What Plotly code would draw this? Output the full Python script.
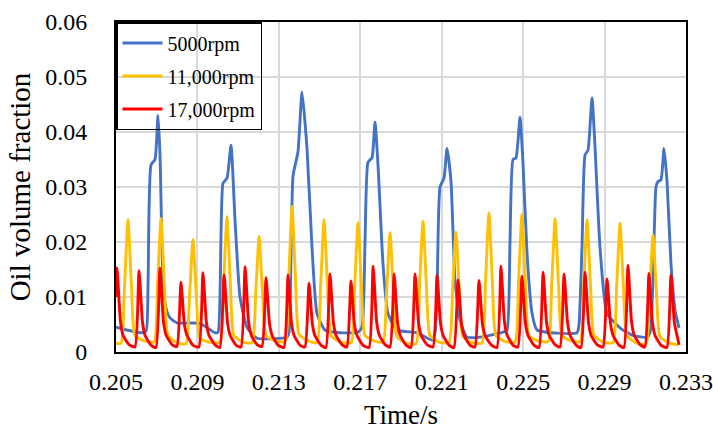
import plotly.graph_objects as go

# ---------------- data (time in ms, value = oil volume fraction) ----------------
blue_t_ms = [205.000, 206.179, 206.474, 206.572, 206.719, 206.916, 207.063, 207.161, 207.309, 207.456,
             207.653, 207.996, 209.126, 209.863, 210.011, 210.256, 210.453, 210.649, 210.846, 211.091,
             211.435, 211.926, 212.565, 213.400, 213.498, 213.695, 213.940, 214.137, 214.383, 214.628,
             214.874, 215.267, 216.004, 216.888, 217.084, 217.232, 217.379, 217.575, 217.723, 217.870,
             218.116, 218.361, 218.804, 219.786, 220.523, 220.670, 220.768, 220.916, 221.112, 221.260,
             221.456, 221.653, 221.898, 222.242, 222.881, 224.011, 224.207, 224.354, 224.502, 224.649,
             224.846, 224.993, 225.190, 225.435, 225.681, 227.646, 227.744, 227.891, 228.039, 228.186,
             228.383, 228.530, 228.776, 229.119, 229.758, 230.397, 231.084, 231.232, 231.379, 231.526,
             231.625, 231.772, 231.919, 232.067, 232.263, 232.460, 232.656]
blue_v = [0.0045, 0.0035, 0.0038, 0.0120, 0.0340, 0.0350, 0.0430, 0.0360, 0.0130, 0.0080,
          0.0062, 0.0053, 0.0052, 0.0035, 0.0036, 0.0307, 0.0316, 0.0376, 0.0240, 0.0100,
          0.0045, 0.0025, 0.0024, 0.0027, 0.0035, 0.0320, 0.0364, 0.0473, 0.0370, 0.0190,
          0.0070, 0.0040, 0.0035, 0.0036, 0.0045, 0.0200, 0.0345, 0.0353, 0.0418, 0.0340,
          0.0160, 0.0070, 0.0040, 0.0035, 0.0022, 0.0035, 0.0100, 0.0300, 0.0316, 0.0370,
          0.0310, 0.0130, 0.0058, 0.0027, 0.0027, 0.0036, 0.0040, 0.0200, 0.0350, 0.0353,
          0.0427, 0.0344, 0.0180, 0.0071, 0.0040, 0.0035, 0.0050, 0.0190, 0.0358, 0.0367,
          0.0462, 0.0373, 0.0190, 0.0070, 0.0044, 0.0030, 0.0027, 0.0035, 0.0130, 0.0300,
          0.0310, 0.0313, 0.0370, 0.0310, 0.0160, 0.0076, 0.0044]

yellow_t_ms = [205.000,
               205.25, 205.42, 205.59, 205.76, 205.93, 206.39,
               206.87, 207.04, 207.21, 207.38, 207.55, 208.01,
               208.44, 208.61, 208.78, 208.95, 209.12, 209.58,
               210.11, 210.28, 210.45, 210.62, 210.79, 211.25,
               211.69, 211.86, 212.03, 212.20, 212.37, 212.83,
               213.31, 213.48, 213.65, 213.82, 213.99, 214.45,
               214.88, 215.05, 215.22, 215.39, 215.56, 216.02,
               216.55, 216.72, 216.89, 217.06, 217.23, 217.69,
               218.12, 218.29, 218.46, 218.63, 218.80, 219.26,
               219.74, 219.91, 220.08, 220.25, 220.42, 220.88,
               221.36, 221.53, 221.70, 221.87, 222.04, 222.50,
               222.98, 223.15, 223.32, 223.49, 223.66, 224.12,
               224.60, 224.77, 224.94, 225.11, 225.28, 225.74,
               226.23, 226.40, 226.57, 226.74, 226.91, 227.37,
               227.80, 227.97, 228.14, 228.31, 228.48, 228.94,
               229.42, 229.59, 229.76, 229.93, 230.10, 230.56,
               231.04, 231.21, 231.38, 231.55, 231.72, 232.18,
               232.607]
yellow_v = [0.0016,
            0.0016, 0.0120, 0.0240, 0.0120, 0.0030, 0.0020,
            0.0018, 0.0121, 0.0243, 0.0121, 0.0030, 0.0016,
            0.0015, 0.0100, 0.0204, 0.0100, 0.0025, 0.0018,
            0.0018, 0.0123, 0.0246, 0.0123, 0.0030, 0.0018,
            0.0017, 0.0105, 0.0210, 0.0105, 0.0030, 0.0020,
            0.0019, 0.0130, 0.0265, 0.0130, 0.0032, 0.0020,
            0.0017, 0.0120, 0.0240, 0.0120, 0.0030, 0.0018,
            0.0017, 0.0117, 0.0235, 0.0117, 0.0030, 0.0020,
            0.0018, 0.0108, 0.0217, 0.0108, 0.0028, 0.0016,
            0.0015, 0.0119, 0.0238, 0.0119, 0.0030, 0.0018,
            0.0017, 0.0109, 0.0218, 0.0109, 0.0028, 0.0017,
            0.0016, 0.0126, 0.0253, 0.0126, 0.0030, 0.0019,
            0.0018, 0.0125, 0.0250, 0.0125, 0.0030, 0.0020,
            0.0019, 0.0121, 0.0242, 0.0121, 0.0030, 0.0020,
            0.0019, 0.0120, 0.0240, 0.0120, 0.0030, 0.0018,
            0.0017, 0.0117, 0.0234, 0.0117, 0.0030, 0.0016,
            0.0015, 0.0106, 0.0213, 0.0106, 0.0028, 0.0016,
            0.0013]

red_t_ms = [205.000, 205.049, 205.22, 205.35, 205.65,
            205.93, 206.13, 206.30, 206.43, 206.73,
            206.96, 207.16, 207.33, 207.46, 207.76,
            207.99, 208.19, 208.36, 208.49, 208.79,
            209.07, 209.27, 209.44, 209.57, 209.87,
            210.10, 210.31, 210.48, 210.61, 210.91,
            211.14, 211.34, 211.51, 211.64, 211.94,
            212.17, 212.37, 212.54, 212.67, 212.97,
            213.25, 213.45, 213.62, 213.75, 214.05,
            214.28, 214.48, 214.65, 214.78, 215.08,
            215.31, 215.51, 215.68, 215.81, 216.11,
            216.34, 216.54, 216.71, 216.84, 217.14,
            217.43, 217.63, 217.80, 217.93, 218.23,
            218.46, 218.66, 218.83, 218.96, 219.26,
            219.49, 219.69, 219.86, 219.99, 220.29,
            220.57, 220.77, 220.94, 221.07, 221.37,
            221.60, 221.80, 221.97, 222.10, 222.40,
            222.63, 222.83, 223.00, 223.13, 223.43,
            223.71, 223.91, 224.08, 224.21, 224.51,
            224.74, 224.94, 225.11, 225.24, 225.54,
            225.78, 225.98, 226.15, 226.28, 226.58,
            226.81, 227.01, 227.18, 227.31, 227.61,
            227.84, 228.04, 228.21, 228.34, 228.64,
            228.92, 229.12, 229.29, 229.42, 229.72,
            229.95, 230.15, 230.32, 230.45, 230.75,
            230.98, 231.18, 231.35, 231.48, 231.78,
            232.06, 232.26, 232.43, 232.56, 232.66]
red_v = [0.0100, 0.0153, 0.0055, 0.0030, 0.0013,
         0.0009, 0.0148, 0.0055, 0.0030, 0.0012,
         0.0008, 0.0153, 0.0056, 0.0031, 0.0013,
         0.0010, 0.0127, 0.0050, 0.0030, 0.0012,
         0.0009, 0.0144, 0.0054, 0.0030, 0.0013,
         0.0008, 0.0140, 0.0053, 0.0030, 0.0012,
         0.0009, 0.0155, 0.0056, 0.0031, 0.0013,
         0.0010, 0.0135, 0.0052, 0.0030, 0.0012,
         0.0008, 0.0140, 0.0053, 0.0030, 0.0012,
         0.0009, 0.0125, 0.0050, 0.0029, 0.0012,
         0.0008, 0.0142, 0.0054, 0.0030, 0.0013,
         0.0009, 0.0129, 0.0051, 0.0030, 0.0012,
         0.0008, 0.0156, 0.0056, 0.0031, 0.0013,
         0.0009, 0.0142, 0.0054, 0.0030, 0.0012,
         0.0008, 0.0142, 0.0054, 0.0030, 0.0013,
         0.0009, 0.0140, 0.0053, 0.0030, 0.0012,
         0.0008, 0.0131, 0.0051, 0.0030, 0.0012,
         0.0009, 0.0130, 0.0051, 0.0030, 0.0013,
         0.0008, 0.0156, 0.0056, 0.0031, 0.0012,
         0.0009, 0.0138, 0.0053, 0.0030, 0.0012,
         0.0008, 0.0145, 0.0054, 0.0030, 0.0013,
         0.0009, 0.0142, 0.0054, 0.0030, 0.0012,
         0.0008, 0.0145, 0.0054, 0.0030, 0.0013,
         0.0009, 0.0133, 0.0052, 0.0030, 0.0012,
         0.0008, 0.0158, 0.0057, 0.0031, 0.0013,
         0.0009, 0.0143, 0.0054, 0.0030, 0.0012,
         0.0008, 0.0140, 0.0053, 0.0030, 0.0013]

series_names = ["5000rpm", "11,000rpm", "17,000rpm"]
series_colors = ["#4472C4", "#FFC000", "#FF0000"]

x_tick_vals = [0.205, 0.209, 0.213, 0.217, 0.221, 0.225, 0.229, 0.233]
x_tick_text = ["0.205", "0.209", "0.213", "0.217", "0.221", "0.225", "0.229", "0.233"]
y_tick_vals = [0, 0.01, 0.02, 0.03, 0.04, 0.05, 0.06]
y_tick_text = ["0", "0.01", "0.02", "0.03", "0.04", "0.05", "0.06"]

# ---------------- figure ----------------
FONT = "Liberation Serif"
fig = go.Figure()
for name, t_ms, v, color in zip(series_names,
                                [blue_t_ms, yellow_t_ms, red_t_ms],
                                [blue_v, yellow_v, red_v],
                                series_colors):
    fig.add_trace(go.Scatter(
        x=[t / 1000.0 for t in t_ms], y=v, mode="lines", name=name,
        legendgroup=name,
        line=dict(color=color, width=2.9, shape="spline", smoothing=0.5),
    ))

axis_common = dict(
    showline=True, linecolor="black", linewidth=2, mirror=True,
    showgrid=True, gridcolor="#D9D9D9", gridwidth=1.5,
    zeroline=False, ticks="", automargin=False,
    tickfont=dict(family=FONT, size=24, color="black"),
)

fig.update_layout(
    width=713, height=430,
    margin=dict(l=116, r=27, t=22, b=78),
    paper_bgcolor="white", plot_bgcolor="white",
    font=dict(family=FONT, color="black"),
    showlegend=True,
    legend=dict(
        x=0, y=1, xanchor="left", yanchor="top",
        bgcolor="rgba(0,0,0,0)", bordercolor="black", borderwidth=1.5,
        font=dict(family=FONT, size=20, color="black"),
        traceorder="grouped", tracegroupgap=4, itemwidth=40,
    ),
    xaxis=dict(
        range=[0.205, 0.233], tickvals=x_tick_vals, ticktext=x_tick_text,
        title=dict(text="Time/s", font=dict(family=FONT, size=27, color="black"), standoff=16),
        ticklabelstandoff=7,
        **axis_common,
    ),
    yaxis=dict(
        range=[0, 0.06], tickvals=y_tick_vals, ticktext=y_tick_text,
        title=dict(text="Oil volume fraction", font=dict(family=FONT, size=29, color="black"), standoff=6),
        ticklabelstandoff=22,
        **axis_common,
    ),
)

fig.write_html("out.html")
